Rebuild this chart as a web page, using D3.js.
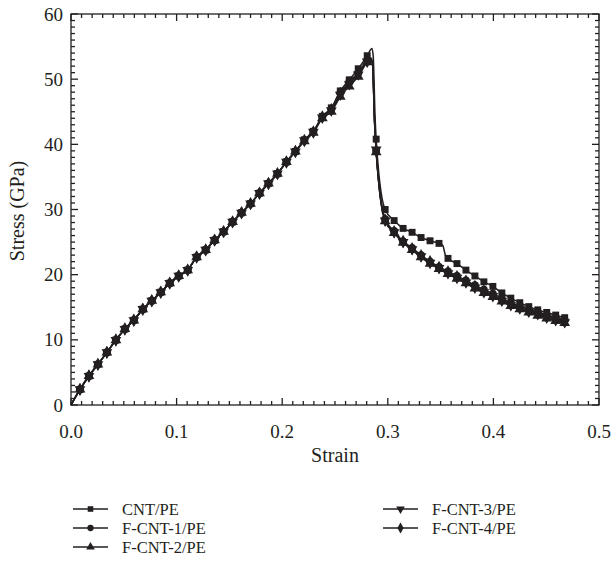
<!DOCTYPE html>
<html>
<head>
<meta charset="utf-8">
<script src="https://cdn.jsdelivr.net/npm/d3@7"></script>
<style>
  body { margin: 0; background: #fff; }
  svg text { font-family: "Liberation Serif", "Times New Roman", serif; fill: #231f20; }
</style>
</head>
<body>
<div id="chart"></div>
<script>
// strain at each marker
const strain = [
  0, 0.0085, 0.017, 0.0255, 0.034, 0.0425, 0.051, 0.0595, 0.068, 0.0765,
  0.085, 0.0935, 0.102, 0.1105, 0.119, 0.1275, 0.136, 0.1445, 0.153, 0.1615,
  0.17, 0.1785, 0.187, 0.1955, 0.204, 0.2125, 0.221, 0.2295, 0.238, 0.2465,
  0.255, 0.2635, 0.272, 0.2805, 0.289, 0.2975, 0.306, 0.3145, 0.323, 0.3315,
  0.34, 0.3485, 0.357, 0.3655, 0.374, 0.3825, 0.391, 0.3995, 0.408, 0.4165,
  0.425, 0.4335, 0.442, 0.4505, 0.459, 0.4675
];

// stress (GPa) per series
const cntPE = [
  0, 2.4, 4.45, 6.24, 8.08, 9.97, 11.66, 13.0, 14.7, 16.0,
  17.3, 18.7, 19.8, 20.7, 22.7, 23.8, 25.3, 26.6, 28.1, 29.5,
  30.9, 32.5, 34.0, 35.5, 37.3, 38.9, 40.7, 42.0, 44.3, 45.6,
  48.2, 49.9, 51.6, 53.6, 40.8, 30.0, 28.3, 27.1, 26.5, 25.7,
  25.2, 24.8, 22.5, 21.7, 20.7, 19.8, 18.9, 18.2, 17.2, 16.4,
  15.7, 15.1, 14.6, 14.2, 13.8, 13.4
];
const fcnt1 = [
  0, 2.4, 4.45, 6.24, 8.08, 9.97, 11.66, 13.0, 14.7, 16.0,
  17.3, 18.7, 19.8, 20.7, 22.7, 23.8, 25.3, 26.6, 28.1, 29.5,
  30.9, 32.5, 34.0, 35.5, 37.3, 38.9, 40.6, 41.9, 44.2, 45.4,
  47.9, 49.6, 51.0, 52.9, 39.0, 28.5, 26.7, 25.1, 24.1, 23.0,
  22.0, 21.2, 20.5, 19.8, 19.1, 18.4, 17.7, 17.1, 16.4, 15.7,
  15.2, 14.7, 14.3, 13.8, 13.4, 13.1
];
const fcnt2 = [
  0, 2.4, 4.45, 6.24, 8.08, 9.97, 11.66, 13.0, 14.7, 16.0,
  17.3, 18.7, 19.8, 20.7, 22.7, 23.8, 25.3, 26.6, 28.1, 29.5,
  30.9, 32.5, 34.0, 35.5, 37.3, 38.9, 40.5, 41.8, 44.0, 45.0,
  47.3, 48.9, 50.4, 52.6, 38.8, 28.2, 26.4, 24.9, 23.8, 22.7,
  21.7, 20.9, 20.1, 19.4, 18.7, 17.9, 17.2, 16.6, 15.9, 15.2,
  14.7, 14.2, 13.7, 13.3, 12.9, 12.6
];
const fcnt3 = [
  0, 2.4, 4.45, 6.24, 8.08, 9.97, 11.66, 13.0, 14.7, 16.0,
  17.3, 18.7, 19.8, 20.7, 22.7, 23.8, 25.3, 26.6, 28.1, 29.5,
  30.9, 32.5, 34.0, 35.5, 37.3, 38.9, 40.6, 41.9, 44.1, 45.2,
  47.6, 49.2, 50.7, 52.7, 39.2, 28.3, 26.5, 25.0, 23.9, 22.8,
  21.8, 21.0, 20.2, 19.5, 18.8, 18.0, 17.3, 16.7, 16.0, 15.3,
  14.8, 14.3, 13.9, 13.4, 13.0, 12.7
];
const fcnt4 = [
  0, 2.4, 4.45, 6.24, 8.08, 9.97, 11.66, 13.0, 14.7, 16.0,
  17.3, 18.7, 19.8, 20.7, 22.7, 23.8, 25.3, 26.6, 28.1, 29.5,
  30.9, 32.5, 34.0, 35.5, 37.3, 38.9, 40.6, 41.9, 44.2, 45.3,
  47.8, 49.4, 50.9, 52.8, 39.0, 28.4, 26.6, 25.1, 24.0, 22.9,
  22.0, 21.1, 20.4, 19.7, 19.0, 18.2, 17.5, 16.9, 16.2, 15.5,
  15.0, 14.5, 14.1, 13.6, 13.2, 12.9
];

// extra curve points between markers (peak, drop, kink)
const cntExtraStrain = [0.2850, 0.2862, 0.2880, 0.2915, 0.2935, 0.2955, 0.3520, 0.3545];
const cntExtraStress = [54.7, 53.5, 44.0, 35.5, 32.8, 31.0, 24.5, 23.0];
const fExtraStrain = [0.2835, 0.2855, 0.2875, 0.2915, 0.2935, 0.2955];
const f1ExtraStress = [53.3, 52.6, 43.5, 34.2, 31.4, 29.6];
const f2ExtraStress = [53.0, 52.3, 43.2, 33.9, 31.1, 29.3];
const f3ExtraStress = [53.1, 52.4, 43.4, 34.0, 31.2, 29.4];
const f4ExtraStress = [53.2, 52.5, 43.4, 34.1, 31.3, 29.5];

const seriesNames = ["CNT/PE", "F-CNT-1/PE", "F-CNT-2/PE", "F-CNT-3/PE", "F-CNT-4/PE"];
const seriesValues = [cntPE, fcnt1, fcnt2, fcnt3, fcnt4];
const extraStrain = [cntExtraStrain, fExtraStrain, fExtraStrain, fExtraStrain, fExtraStrain];
const extraStress = [cntExtraStress, f1ExtraStress, f2ExtraStress, f3ExtraStress, f4ExtraStress];

const xTicks = [0, 0.1, 0.2, 0.3, 0.4, 0.5];
const yTicks = [0, 10, 20, 30, 40, 50, 60];

const width = 611, height = 567;
const margin = {left: 71, right: 12, top: 14, bottom: 162};
const ink = "#231f20";
const serif = "'Liberation Serif', 'Times New Roman', serif";

let svg = d3.select("#chart")
  .append("svg")
  .attr("width", width)
  .attr("height", height)
  .attr("font-family", serif);

let x = d3.scaleLinear().domain([0, 0.5]).range([margin.left, width - margin.right]);
let y = d3.scaleLinear().domain([0, 60]).range([height - margin.bottom, margin.top]);

// symbols for each series
const symbols = [
  {type: d3.symbolSquare, size: 48, rot: 0},
  {type: d3.symbolCircle, size: 48, rot: 0},
  {type: d3.symbolTriangle, size: 50, rot: 0},
  {type: d3.symbolTriangle, size: 50, rot: 180},
  {type: d3.symbolDiamond, size: 52, rot: 0}
];

let plot = svg.append("g");

let line = d3.line()
  .x(d => x(d[0]))
  .y(d => y(d[1]))
  .curve(d3.curveMonotoneX);

seriesValues.forEach((vals, s) => {
  let pts = strain.map((st, i) => [st, vals[i]]);
  extraStrain[s].forEach((st, i) => pts.push([st, extraStress[s][i]]));
  pts.sort((a, b) => a[0] - b[0]);

  plot.append("path")
    .attr("d", line(pts))
    .attr("fill", "none")
    .attr("stroke", ink)
    .attr("stroke-width", 1.5);

  let sym = d3.symbol().type(symbols[s].type).size(symbols[s].size);
  plot.append("g")
    .selectAll("path")
    .data(strain.map((st, i) => [st, vals[i]]).filter(d => d[0] > 0))
    .enter()
      .append("path")
      .attr("d", sym)
      .attr("fill", ink)
      .attr("transform", d => `translate(${x(d[0])},${y(d[1])}) rotate(${symbols[s].rot})`);
});

// frame + ticks (inside, all four sides)
let x0 = x.range()[0], x1 = x.range()[1];
let y0 = y.range()[0], y1 = y.range()[1];

let axisG = svg.append("g").attr("stroke", ink).attr("stroke-width", 1.3);
axisG.append("rect")
  .attr("x", x0).attr("y", y1)
  .attr("width", x1 - x0).attr("height", y0 - y1)
  .attr("fill", "none");

let xMinor = d3.range(0, 51).map(i => i / 100);
xMinor.forEach((v, i) => {
  let len = i % 10 === 0 ? 7 : 4;
  axisG.append("line").attr("x1", x(v)).attr("x2", x(v)).attr("y1", y0).attr("y2", y0 - len);
  axisG.append("line").attr("x1", x(v)).attr("x2", x(v)).attr("y1", y1).attr("y2", y1 + len);
});
let yMinor = d3.range(0, 61);
yMinor.forEach((v, i) => {
  let len = i % 10 === 0 ? 7 : 4;
  axisG.append("line").attr("y1", y(v)).attr("y2", y(v)).attr("x1", x0).attr("x2", x0 + len);
  axisG.append("line").attr("y1", y(v)).attr("y2", y(v)).attr("x1", x1).attr("x2", x1 - len);
});

// tick labels
svg.append("g")
  .selectAll("text")
  .data(xTicks)
  .enter()
    .append("text")
    .attr("x", d => x(d))
    .attr("y", y0 + 33)
    .attr("text-anchor", "middle")
    .attr("font-size", "19px")
    .text(d => d.toFixed(1));

svg.append("g")
  .selectAll("text")
  .data(yTicks)
  .enter()
    .append("text")
    .attr("x", x0 - 8)
    .attr("y", d => y(d))
    .attr("dy", "0.35em")
    .attr("text-anchor", "end")
    .attr("font-size", "19px")
    .text(d => d);

// axis titles
svg.append("text")
  .attr("x", (x0 + x1) / 2)
  .attr("y", 462)
  .attr("text-anchor", "middle")
  .attr("font-size", "20px")
  .text("Strain");

svg.append("text")
  .attr("transform", "translate(24,211) rotate(-90)")
  .attr("text-anchor", "middle")
  .attr("font-size", "20px")
  .text("Stress (GPa)");

// legend
const legendCols = [[0, 1, 2], [3, 4]];
const legendX = [73, 383];
legendCols.forEach((col, c) => {
  col.forEach((s, r) => {
    let cy = 509 + r * 19;
    let g = svg.append("g").attr("transform", `translate(${legendX[c]},${cy})`);
    g.append("line")
      .attr("x1", 0).attr("x2", 35)
      .attr("stroke", ink).attr("stroke-width", 1.4);
    g.append("path")
      .attr("d", d3.symbol().type(symbols[s].type).size(symbols[s].size * 0.65))
      .attr("fill", ink)
      .attr("transform", `translate(17.5,0) rotate(${symbols[s].rot})`);
    g.append("text")
      .attr("x", 49)
      .attr("dy", "0.35em")
      .attr("font-size", "16.5px")
      .text(seriesNames[s]);
  });
});
</script>
</body>
</html>
